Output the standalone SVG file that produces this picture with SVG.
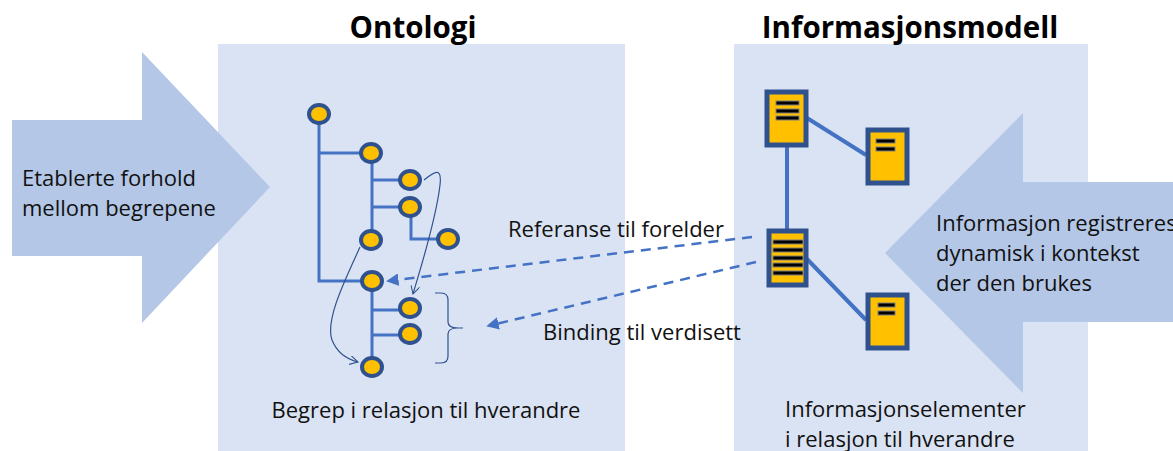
<svg xmlns="http://www.w3.org/2000/svg" width="1173" height="451" viewBox="0 0 1173 451">
<defs>
<style>
.panel{fill:#DAE3F3}
.bigarrow{fill:#B4C7E7}
.t{font-family:"Open Sans","Liberation Sans",Arial,sans-serif;font-size:22px;fill:#111}
.title{font-family:"Open Sans","Liberation Sans",Arial,sans-serif;font-size:29.5px;font-weight:bold;fill:#000}
.tree{stroke:#4472C4;stroke-width:3;fill:none}
.node{fill:#FFC000;stroke:#2F528F;stroke-width:4}
.doc{fill:#FFC000;stroke:#2F528F;stroke-width:5}
.bar{fill:#000;stroke:#7F7F7F;stroke-width:1}
.link{stroke:#4472C4;stroke-width:4;fill:none}
.dash{stroke:#4472C4;stroke-width:2.5;fill:none;stroke-dasharray:10 7}
.thin{stroke:#2F528F;stroke-width:1.2;fill:none}
</style>
<marker id="tri" viewBox="0 0 10 10" refX="2" refY="5" markerWidth="5" markerHeight="5" orient="auto-start-reverse">
<path d="M0,0 L10,5 L0,10 z" fill="#4472C4"/>
</marker>
<marker id="open" viewBox="0 0 10 10" refX="9" refY="5" markerWidth="9" markerHeight="9" markerUnits="userSpaceOnUse" orient="auto">
<path d="M0,0 L9,5 L0,10" fill="none" stroke="#2F528F" stroke-width="1.2"/>
</marker>
</defs>

<g id="panel-ontologi"><rect class="panel" x="218" y="44" width="407" height="407"/></g>
<g id="panel-informasjonsmodell"><rect class="panel" x="734" y="44" width="354" height="407"/></g>

<g id="arrow-left">
<path class="bigarrow" d="M12,120 L142,120 L142,52 L270,187 L142,323 L142,256 L12,256 z"/>
<text class="t" x="22" y="186">Etablerte forhold</text>
<text class="t" x="22" y="216">mellom begrepene</text>
</g>

<g id="arrow-right">
<path class="bigarrow" d="M1173,182 L1023,182 L1023,113 L885,253 L1023,393 L1023,322 L1173,322 z"/>
<text class="t" x="936" y="231">Informasjon registreres</text>
<text class="t" x="936" y="261">dynamisk i kontekst</text>
<text class="t" x="936" y="291">der den brukes</text>
</g>

<text class="title" x="413" y="38" text-anchor="middle">Ontologi</text>
<text class="title" x="910" y="38" text-anchor="middle">Informasjonsmodell</text>

<g id="connectors">
<path class="tree" d="M319,114 V281 H372 M319,153 H370 M372,153 V240 M372,180 H411 M372,207 H411 M411,207 V239 H448 M372,281 V367 M372,310 H411 M372,335 H411"/>
<path class="thin" d="M424,180 C436,170 442,168 440,185 C436,220 420,270 413,294" marker-end="url(#open)"/>
<path class="thin" d="M360,247 C345,280 325,320 332,340 C338,355 350,360 358,362" marker-end="url(#open)"/>
<path class="thin" d="M435,293 H441 C446,293 448,296 448,300 V322 C448,326 452,328 458,328 H463 M458,328 C452,328 448,330 448,334 V356 C448,360 446,363 441,363 H435"/>
<line class="dash" x1="752" y1="237" x2="396" y2="280" marker-end="url(#tri)"/>
<line class="dash" x1="756" y1="262" x2="496" y2="324" marker-end="url(#tri)"/>
<path class="link" d="M787,147 V229 M807,118 L866,155 M807,259 L866,320"/>
</g>

<g id="onto-nodes">
<ellipse class="node" cx="319" cy="114" rx="10" ry="9"/>
<ellipse class="node" cx="371" cy="153" rx="10" ry="9"/>
<ellipse class="node" cx="410" cy="180" rx="10" ry="9"/>
<ellipse class="node" cx="410" cy="207" rx="10" ry="9"/>
<ellipse class="node" cx="448" cy="239" rx="10" ry="9"/>
<ellipse class="node" cx="371" cy="240" rx="10" ry="9"/>
<ellipse class="node" cx="372" cy="281" rx="10" ry="9"/>
<ellipse class="node" cx="410" cy="308" rx="10" ry="9"/>
<ellipse class="node" cx="410" cy="334" rx="10" ry="9"/>
<ellipse class="node" cx="372" cy="367" rx="10" ry="9"/>
</g>

<g id="doc1">
<rect class="doc" x="767" y="92" width="39" height="53"/>
<rect class="bar" x="776" y="101" width="23" height="4"/>
<rect class="bar" x="776" y="109" width="23" height="4"/>
<rect class="bar" x="776" y="116" width="23" height="4"/>
</g>
<g id="doc2">
<rect class="doc" x="868" y="130" width="39" height="53"/>
<rect class="bar" x="876" y="139" width="19" height="4"/>
<rect class="bar" x="876" y="147" width="19" height="4"/>
</g>
<g id="doc3">
<rect class="doc" x="769" y="231" width="37" height="54"/>
<rect class="bar" x="773" y="240" width="30" height="4"/>
<rect class="bar" x="773" y="248" width="30" height="4"/>
<rect class="bar" x="773" y="256" width="30" height="4"/>
<rect class="bar" x="773" y="263" width="30" height="4"/>
<rect class="bar" x="773" y="271" width="30" height="4"/>
</g>
<g id="doc4">
<rect class="doc" x="868" y="295" width="39" height="53"/>
<rect class="bar" x="878" y="303" width="17" height="4"/>
<rect class="bar" x="878" y="311" width="17" height="4"/>
</g>

<g id="labels">
<text class="t" x="508" y="237">Referanse til forelder</text>
<text class="t" x="543" y="340">Binding til verdisett</text>
<text class="t" x="426" y="418" text-anchor="middle">Begrep i relasjon til hverandre</text>
<text class="t" x="785" y="417">Informasjonselementer</text>
<text class="t" x="785" y="447">i relasjon til hverandre</text>
</g>
</svg>
